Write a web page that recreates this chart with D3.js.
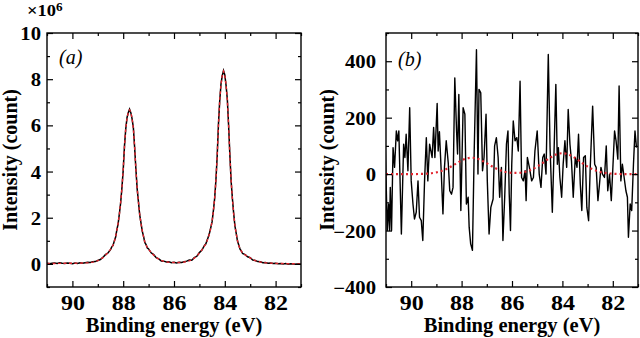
<!DOCTYPE html>
<html>
<head>
<meta charset="utf-8">
<script src="https://cdn.jsdelivr.net/npm/d3@7"></script>
<style>
  body { margin: 0; background: #fff; }
  svg { display: block; }
  svg text { font-family: "Liberation Serif", "Times New Roman", serif; }
</style>
</head>
<body>
<svg id="chart" width="640" height="338"></svg>
<script>
// ---- panel (a): spectrum, counts in units of 1e6 ----
const energyA = [91.0, 90.9, 90.8, 90.7, 90.6, 90.5, 90.4, 90.3, 90.2, 90.1, 90.0, 89.9, 89.8, 89.7, 89.6, 89.5, 89.4, 89.3, 89.2, 89.1, 89.0, 88.9, 88.8, 88.7, 88.6, 88.5,
  88.45, 88.4, 88.35, 88.3, 88.25, 88.2, 88.15, 88.1, 88.05, 88.0, 87.95, 87.9, 87.85, 87.8, 87.75, 87.7, 87.65, 87.6, 87.55, 87.5, 87.45, 87.4, 87.35, 87.3, 87.25, 87.2, 87.15, 87.1, 87.05,
  87.0, 86.9, 86.8, 86.7, 86.6, 86.5, 86.4, 86.3, 86.2, 86.1, 86.0, 85.9, 85.8, 85.7, 85.6, 85.5, 85.4, 85.3, 85.2, 85.1, 85.0, 84.9, 84.8,
  84.75, 84.7, 84.65, 84.6, 84.55, 84.5, 84.45, 84.4, 84.35, 84.3, 84.25, 84.2, 84.15, 84.1, 84.05, 84.0, 83.95, 83.9, 83.85, 83.8, 83.75, 83.7, 83.65, 83.6, 83.55, 83.5, 83.45, 83.4, 83.35,
  83.3, 83.2, 83.1, 83.0, 82.9, 82.8, 82.7, 82.6, 82.5, 82.4, 82.3, 82.2, 82.1, 82.0, 81.9, 81.8, 81.7, 81.6, 81.5, 81.4, 81.3, 81.2, 81.1, 81.0];

const countA = [0.03, 0.01, 0.03, 0.04, 0.02, 0.05, 0.03, 0.02, 0.04, 0.03, 0.01, 0.04, 0.02, 0.05, 0.03, 0.05, 0.07, 0.06, 0.09, 0.10, 0.15, 0.19, 0.28, 0.40, 0.47, 0.62,
  0.74, 0.80, 0.99, 1.15, 1.47, 1.73, 2.18, 2.65, 3.30, 4.05, 5.10, 5.84, 6.33, 6.55, 6.70, 6.55, 6.28, 5.90, 5.04, 4.10, 3.25, 2.70, 2.12, 1.78, 1.42, 1.20, 0.93, 0.84, 0.69,
  0.65, 0.48, 0.40, 0.27, 0.22, 0.13, 0.12, 0.08, 0.09, 0.05, 0.07, 0.04, 0.07, 0.06, 0.09, 0.12, 0.17, 0.16, 0.27, 0.33, 0.49, 0.60, 0.80,
  0.86, 1.01, 1.16, 1.35, 1.58, 1.83, 2.30, 2.83, 3.62, 4.66, 6.05, 7.06, 7.79, 8.15, 8.37, 8.19, 7.73, 7.12, 5.98, 4.71, 3.57, 2.82, 2.18, 1.63, 1.32, 0.99, 0.82, 0.64, 0.56,
  0.45, 0.40, 0.31, 0.27, 0.17, 0.15, 0.10, 0.09, 0.05, 0.06, 0.03, 0.04, 0.02, 0.03, 0.01, 0.02, 0.00, 0.02, -0.01, 0.01, 0.00, -0.01, 0.01, -0.01];

const fitA = [0.02, 0.02, 0.02, 0.02, 0.02, 0.025, 0.025, 0.027, 0.027, 0.029, 0.03, 0.031, 0.033, 0.035, 0.039, 0.043, 0.05, 0.06, 0.077, 0.10, 0.14, 0.20, 0.27, 0.37, 0.49, 0.63,
  0.71, 0.82, 0.96, 1.18, 1.45, 1.75, 2.15, 2.68, 3.28, 4.08, 5.07, 5.87, 6.30, 6.57, 6.67, 6.57, 6.30, 5.87, 5.07, 4.08, 3.28, 2.68, 2.15, 1.75, 1.45, 1.18, 0.96, 0.82, 0.71,
  0.63, 0.50, 0.38, 0.28, 0.21, 0.15, 0.11, 0.09, 0.07, 0.066, 0.064, 0.062, 0.064, 0.07, 0.08, 0.10, 0.13, 0.18, 0.25, 0.34, 0.47, 0.61, 0.78,
  0.87, 0.99, 1.14, 1.33, 1.56, 1.85, 2.27, 2.85, 3.60, 4.68, 6.01, 7.09, 7.76, 8.17, 8.34, 8.17, 7.76, 7.09, 6.01, 4.68, 3.60, 2.80, 2.15, 1.66, 1.30, 1.01, 0.80, 0.66, 0.55,
  0.47, 0.39, 0.33, 0.26, 0.19, 0.14, 0.11, 0.085, 0.068, 0.05, 0.04, 0.035, 0.03, 0.025, 0.02, 0.018, 0.015, 0.012, 0.01, 0.01, 0.008, 0.005, 0.003, 0.0];

// ---- panel (b): residual counts ----
const energyB = [91.05, 90.99, 90.95, 90.90, 90.86, 90.83, 90.78, 90.72, 90.66, 90.59, 90.54, 90.49, 90.39, 90.30, 90.25, 90.20, 90.13, 90.06, 90.00,
  89.93, 89.87, 89.80, 89.73, 89.67, 89.60, 89.54, 89.47, 89.40, 89.34, 89.27, 89.17, 89.11, 89.06, 88.97, 88.93, 88.88, 88.81, 88.74, 88.68, 88.61, 88.53,
  88.47, 88.40, 88.34, 88.27, 88.20, 88.16, 88.11, 88.03, 87.94, 87.87, 87.81, 87.74, 87.70, 87.64, 87.57, 87.50, 87.41, 87.35, 87.31, 87.24, 87.17, 87.11, 87.03,
  86.98, 86.91, 86.84, 86.75, 86.69, 86.62, 86.55, 86.49, 86.42, 86.36, 86.29, 86.22, 86.16, 86.11, 86.06, 86.01,
  85.95, 85.88, 85.81, 85.75, 85.68, 85.62, 85.55, 85.48, 85.44, 85.39, 85.31, 85.22, 85.15, 85.09, 85.00,
  84.92, 84.85, 84.78, 84.72, 84.65, 84.56, 84.49, 84.40, 84.32, 84.26, 84.20, 84.16, 84.10, 84.03,
  83.97, 83.90, 83.83, 83.77, 83.70, 83.64, 83.57, 83.49, 83.42, 83.36, 83.29, 83.23, 83.16, 83.09, 83.03,
  82.96, 82.90, 82.80, 82.72, 82.66, 82.59, 82.54, 82.47, 82.41, 82.33, 82.26, 82.20, 82.13, 82.06, 82.00,
  81.93, 81.87, 81.80, 81.75, 81.68, 81.62, 81.55, 81.48, 81.42, 81.38, 81.31, 81.25, 81.18, 81.12, 81.06];

const countB = [165, -47, -200, -106, -200, -47, -200, 94, 24, 153, 118, 153, -212, 106, 59, 141, 12, 235, -24,
  -106, -159, -135, -24, -153, -165, -235, -24, 129, -24, 106, 59, 165, 59, 250, 82, 150, 12, -141, 24, 118, 40,
  -59, -71, -47, 341, 153, 71, 282, -129, 235, 212, -106, -82, -188, -247, -270, 82, 441, 0, 300, 288, 12, 59, 212,
  -24, -212, -118, -88, 100, 129, 59, -82, 24, -235, -82, 106, 153, -71, -200, 35,
  188, 118, 129, 82, 329, -12, -24, 12, -94, 59, 24, -24, -12, 82, 153,
  0, -47, 59, 71, 0, 424, 94, -135, 118, 318, 35, 94, -12, -82,
  35, 118, 24, 229, 106, 47, -82, 59, 24, 141, -35, -129, 59, 65, -118,
  -165, 12, 241, 35, 24, -94, -47, 24, 0, -12, 100, -59, 0, -94, 18,
  153, 118, 53, 312, -24, 35, -12, -59, -82, -224, -106, -129, 35, 153, 94];

const energyFitB = [91.0, 90.8, 90.6, 90.4, 90.2, 90.0, 89.8, 89.6, 89.4, 89.2, 89.0, 88.8, 88.6, 88.4, 88.2, 88.0, 87.8, 87.6, 87.4, 87.2, 87.0,
  86.8, 86.6, 86.4, 86.2, 86.0, 85.8, 85.6, 85.4, 85.2, 85.0, 84.8, 84.6, 84.4, 84.2, 84.0, 83.8, 83.6, 83.4, 83.2, 83.0,
  82.8, 82.6, 82.4, 82.2, 82.0, 81.8, 81.6, 81.4, 81.2, 81.0];
const fitB = [0, 0, 0, 0, 0, 0, 0.3, 0.6, 1.4, 3.1, 6.1, 11.1, 18.4, 27.8, 38.4, 48.3, 55.4, 58.0, 55.4, 48.3, 38.4,
  27.8, 18.5, 11.3, 6.6, 4.4, 4.1, 6.0, 10.2, 17.0, 26.7, 38.5, 51.3, 62.9, 71.0, 74.0, 71.0, 62.9, 51.3, 38.5, 26.7,
  17.0, 10.0, 5.4, 2.7, 1.3, 0.5, 0.2, 0, 0, 0];

// ticks
const xMajor = [90, 88, 86, 84, 82];
const xMinor = [91, 89, 87, 85, 83, 81];
const yMajorA = [0, 2, 4, 6, 8, 10];
const yMinorA = [-1, 1, 3, 5, 7, 9];
const yMajorB = [-400, -200, 0, 200, 400];
const yMinorB = [-300, -100, 100, 300, 500];

const FONT = '"Liberation Serif", "Times New Roman", serif';
const RED = "#e3262f";
const svg = d3.select("#chart");

function drawPanel(cfg) {
  const x = d3.scaleLinear().domain([91, 81]).range([cfg.left, cfg.right]);
  const y = d3.scaleLinear().domain(cfg.yDomain).range([287, 33]);
  const g = svg.append("g");

  g.append("clipPath").attr("id", cfg.id + "-clip")
    .append("rect")
    .attr("x", cfg.left).attr("y", 33)
    .attr("width", cfg.right - cfg.left).attr("height", 254);

  const plot = g.append("g").attr("clip-path", `url(#${cfg.id}-clip)`);
  cfg.draw(plot, x, y);

  // ticks, all pointing inward
  const bottom = g.append("g").attr("transform", "translate(0,287)")
    .call(d3.axisBottom(x).tickValues(xMajor).tickSize(-6).tickFormat(d3.format("d")));
  bottom.selectAll("text").attr("dy", null).attr("y", 23.5)
    .attr("transform", "scale(1.2,1)")
    .style("font-family", FONT)
    .style("font-size", "20px").style("font-weight", "bold").attr("fill", "#000");
  g.append("g").attr("transform", "translate(0,287)")
    .call(d3.axisBottom(x).tickValues(xMinor).tickSize(-3).tickFormat(""));
  g.append("g").attr("transform", "translate(0,33)")
    .call(d3.axisTop(x).tickValues(xMajor).tickSize(-6).tickFormat(""));
  g.append("g").attr("transform", "translate(0,33)")
    .call(d3.axisTop(x).tickValues(xMinor).tickSize(-3).tickFormat(""));

  const left = g.append("g").attr("transform", `translate(${cfg.left},0)`)
    .call(d3.axisLeft(y).tickValues(cfg.yMajor).tickSize(-6).tickFormat(d3.format("d")));
  left.selectAll("text").attr("x", -cfg.labelGap / 1.15).attr("dy", "0.36em")
    .attr("transform", "scale(1.15,1)")
    .style("font-family", FONT)
    .style("font-size", "18px").style("font-weight", "bold").attr("fill", "#000");
  g.append("g").attr("transform", `translate(${cfg.left},0)`)
    .call(d3.axisLeft(y).tickValues(cfg.yMinor).tickSize(-3).tickFormat(""));
  g.append("g").attr("transform", `translate(${cfg.right},0)`)
    .call(d3.axisRight(y).tickValues(cfg.yMajor).tickSize(-6).tickFormat(""));
  g.append("g").attr("transform", `translate(${cfg.right},0)`)
    .call(d3.axisRight(y).tickValues(cfg.yMinor).tickSize(-3).tickFormat(""));

  g.selectAll(".domain").remove();
  g.selectAll(".tick line").attr("stroke", "#000").attr("stroke-width", 1.2);

  g.append("rect")
    .attr("x", cfg.left).attr("y", 33)
    .attr("width", cfg.right - cfg.left).attr("height", 254)
    .attr("fill", "none").attr("stroke", "#000").attr("stroke-width", 1.4);

  // axis titles
  g.append("text")
    .attr("x", (cfg.left + cfg.right) / 2).attr("y", 332)
    .attr("text-anchor", "middle")
    .style("font-family", FONT)
    .style("font-size", "20.5px").style("font-weight", "bold")
    .text("Binding energy (eV)");
  g.append("text")
    .attr("transform", `translate(${cfg.titleX},160) rotate(-90)`)
    .attr("text-anchor", "middle")
    .style("font-family", FONT)
    .style("font-size", "20px").style("font-weight", "bold")
    .text("Intensity (count)");

  g.append("text")
    .attr("x", cfg.left + 12).attr("y", cfg.tagY)
    .style("font-family", FONT)
    .style("font-size", "20px").style("font-style", "italic")
    .text(cfg.tag);
}

drawPanel({
  id: "pa", left: 47, right: 301, yDomain: [-1, 10],
  yMajor: yMajorA, yMinor: yMinorA, labelGap: 6, titleX: 17, tag: "(a)", tagY: 64,
  draw: (p, x, y) => {
    const line = d3.line().x((d, i) => x(energyA[i])).y(d => y(d));
    p.append("path").datum(countA).attr("d", line)
      .attr("fill", "none").attr("stroke", "#000").attr("stroke-width", 1.5);
    p.append("path").datum(fitA).attr("d", line)
      .attr("fill", "none").attr("stroke", RED).attr("stroke-width", 1.4)
      .attr("stroke-dasharray", "3,2.5");
  }
});

drawPanel({
  id: "pb", left: 386, right: 638, yDomain: [-400, 500],
  yMajor: yMajorB, yMinor: yMinorB, labelGap: 10, titleX: 334, tag: "(b)", tagY: 66,
  draw: (p, x, y) => {
    p.append("path").datum(countB)
      .attr("d", d3.line().x((d, i) => x(energyB[i])).y(d => y(d)))
      .attr("fill", "none").attr("stroke", "#000").attr("stroke-width", 1.4)
      .attr("stroke-linejoin", "round");
    p.append("path").datum(fitB)
      .attr("d", d3.line().curve(d3.curveMonotoneX).x((d, i) => x(energyFitB[i])).y(d => y(d)))
      .attr("fill", "none").attr("stroke", RED).attr("stroke-width", 2.2)
      .attr("stroke-dasharray", "2,3");
  }
});

// x10^6 multiplier for panel (a)
svg.append("text")
  .attr("transform", "translate(27,16) scale(1.15,1)")
  .style("font-family", FONT)
  .style("font-size", "16px").style("font-weight", "bold")
  .call(t => {
    t.append("tspan").text("×10");
    t.append("tspan").attr("dy", -5).style("font-size", "11.5px").text("6");
  });
</script>
</body>
</html>
